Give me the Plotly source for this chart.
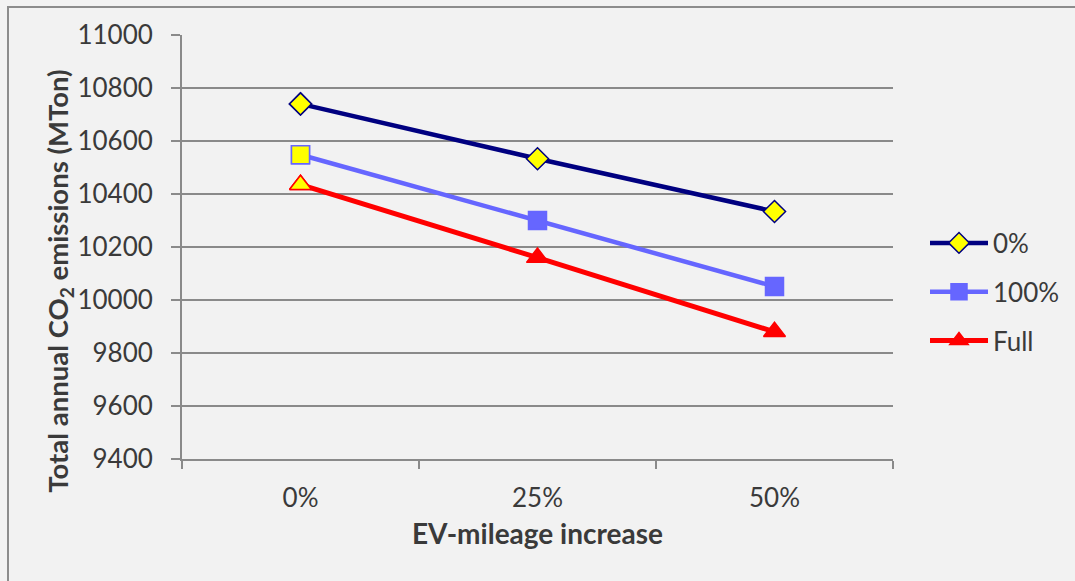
import plotly.graph_objects as go

# EV-mileage increase scenarios (x categories)
categories = ["0%", "25%", "50%"]

# Total annual CO2 emissions (MTon) per charging scenario
series_names = ["0%", "100%", "Full"]
emis_0 = [10740, 10533, 10334]
emis_100 = [10548, 10300, 10051]
emis_full = [10435, 10160, 9880]

y_ticks = [9400, 9600, 9800, 10000, 10200, 10400, 10600, 10800, 11000]
y_tick_labels = [str(v) for v in y_ticks]

FONT = "Lato"
TXT = "#3a3a3a"
GRID = "#8a8a8a"
BG = "#f2f2f2"

W, H = 1075, 581

styles = [
    dict(name=series_names[0], y=emis_0, line=dict(color="#000080", width=4.5),
         marker=dict(symbol="diamond", size=17, color="#ffff00",
                     line=dict(color="#000080", width=1.5))),
    dict(name=series_names[1], y=emis_100, line=dict(color="#6666ff", width=4.5),
         marker=dict(symbol="square", size=18, color="#6666ff",
                     line=dict(color="#6666ff", width=1.5))),
    dict(name=series_names[2], y=emis_full, line=dict(color="#ff0000", width=5),
         marker=dict(symbol="triangle-up", size=19, color="#ff0000",
                     line=dict(color="#ff0000", width=1.5))),
]

fig = go.Figure()
for s in styles:
    fig.add_trace(go.Scatter(
        x=categories, y=s["y"], name=s["name"], mode="lines+markers",
        line=s["line"], marker=s["marker"], legendgroup=s["name"],
    ))

# The first point of every series carries a yellow fill
for s in styles:
    m = dict(s["marker"])
    m["color"] = "#ffff00"
    fig.add_trace(go.Scatter(
        x=categories[:1], y=s["y"][:1], mode="markers", marker=m,
        showlegend=False, legendgroup=s["name"], hoverinfo="skip",
    ))

PLOT_H = 424.5
PLOT_W = 711

fig.update_layout(
    width=W, height=H,
    margin=dict(l=182, r=182, t=35, b=121.5),
    paper_bgcolor=BG, plot_bgcolor=BG,
    font=dict(family=FONT, size=26, color=TXT),
    showlegend=True,
    legend=dict(xref="container", yref="container",
                x=925 / W, y=1 - 292 / H, xanchor="left",
                yanchor="middle", bgcolor="rgba(0,0,0,0)",
                font=dict(size=26, color=TXT),
                tracegroupgap=12, itemwidth=58),
    xaxis=dict(
        type="category", range=[-0.5, 2.5], showgrid=False,
        showline=True, linecolor=GRID, linewidth=2,
        ticks="outside", tickson="boundaries", ticklen=8, tickcolor=GRID,
        tickwidth=2, ticklabelstandoff=15, zeroline=False,
    ),
    yaxis=dict(
        range=[9400, 11000], tickvals=y_ticks, ticktext=y_tick_labels,
        showgrid=True, gridcolor=GRID, gridwidth=2, showline=True,
        linecolor=GRID, linewidth=2, ticks="outside", ticklen=9,
        tickcolor=GRID, tickwidth=2, ticklabelstandoff=13, zeroline=False,
    ),
    annotations=[
        dict(text="<b>EV-mileage increase</b>", xref="paper", yref="paper",
             x=0.5, y=(459.5 - 534) / PLOT_H, xanchor="center",
             yanchor="middle", showarrow=False,
             font=dict(size=28, color=TXT)),
        dict(text="<b>Total annual CO<sub>2</sub> emissions (MTon)</b>",
             xref="paper", yref="paper", textangle=-90,
             x=(60 - 182) / PLOT_W, y=(459.5 - 282) / PLOT_H,
             xanchor="center", yanchor="middle", showarrow=False,
             font=dict(size=27.5, color=TXT)),
    ],
    shapes=[
        dict(type="rect", xref="paper", yref="paper",
             x0=(8 - 182) / PLOT_W, x1=1.5, y0=-0.6,
             y1=1 + (35 - 7) / PLOT_H,
             line=dict(color="#8c8c8c", width=2), layer="below"),
    ],
)

fig.write_html("out.html")
